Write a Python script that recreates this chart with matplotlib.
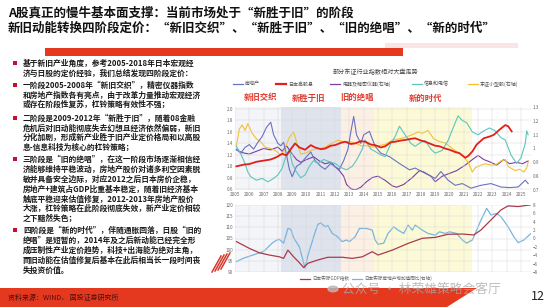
import matplotlib
matplotlib.use('Agg')
import matplotlib.pyplot as plt
from matplotlib.patches import Rectangle, Polygon, Circle
from matplotlib.lines import Line2D

plt.rcParams['font.family'] = ['Noto Sans CJK SC', 'DejaVu Sans']

# ---------------- data ----------------
title1 = 'A股真正的慢牛基本面支撑：当前市场处于“新胜于旧”的阶段'
title2 = '新旧动能转换四阶段定价：“新旧交织”、“新胜于旧”、“旧的绝唱”、“新的时代”'

bullets = [
    ['基于新旧产业角度，参考2005-2018年日本宏观经',
     '济与日股的定价经验，我们总结发现四阶段定价：'],
    ['一阶段2005-2008年“新旧交织”，精密仪器指数',
     '和房地产指数各有亮点，由于改革力量推动宏观经济',
     '或存在阶段性复苏，杠铃策略有效性不强；'],
    ['二阶段是2009-2012年“新胜于旧”，随着08金融',
     '危机后对旧动能彻底失去幻想且经济依然偏弱，新旧',
     '分化加剧，形成新产业胜于旧产业定价格局和以高股',
     '息-信息科技为核心的杠铃策略；'],
    ['三阶段是“旧的绝唱”，在这一阶段市场逐渐相信经',
     '济能够维持平稳波动，房地产股价对诸多利空因素脱',
     '敏并具备安全边际，对应2012之后日本房价企稳，',
     '房地产+建筑占GDP比重基本稳定，随着旧经济基本',
     '触底平稳迎来估值修复，2012-2013年房地产股价',
     '大涨，杠铃策略在此阶段彻底失效，新产业定价相较',
     '之下黯然失色；'],
    ['四阶段是“新的时代”，伴随通胀回落，日股“旧的',
     '绝唱”是短暂的，2014年及之后新动能已经完全形',
     '成压制性产业定价趋势，科技+出海能为绝对主角，',
     '而旧动能在估值修复后基本在此后相当长一段时间丧',
     '失投资价值。'],
]
bullet_y = [[63, 73], [85, 95, 104], [118, 128, 137, 147],
            [159, 169, 179, 189, 199, 208, 218], [230, 240, 250, 260, 270]]

phases = ['新旧交织', '新胜于旧', '旧的绝唱', '新的时代']
phase_spans = [(2005.0, 2008.2), (2008.2, 2012.4), (2012.4, 2014.7), (2014.7, 2021.6)]
years = list(range(2005, 2026))

# 房地产 (left axis)
re_x = [2005.1, 2005.4, 2005.7, 2006.0, 2006.3, 2006.6, 2006.9, 2007.2, 2007.5, 2007.7, 2008.0, 2008.2,
        2008.4, 2008.6, 2008.8, 2009.0, 2009.3, 2009.6, 2009.9, 2010.3, 2010.6, 2011.0, 2011.3, 2011.7,
        2012.0, 2012.3, 2012.6, 2012.9, 2013.1, 2013.3, 2013.5, 2013.8, 2014.0, 2014.4, 2014.8, 2015.2,
        2015.8, 2016.5, 2017.2, 2017.6, 2018.3, 2019.0, 2019.4, 2019.9, 2020.4, 2020.9, 2021.5, 2022.2,
        2022.9, 2023.6, 2024.2, 2024.8, 2025.3, 2025.5]
re_y = [1.30, 1.23, 1.33, 1.38, 1.30, 1.42, 1.52, 1.68, 1.77, 1.55, 1.40, 1.36,
        1.42, 1.20, 0.95, 0.82, 1.00, 1.05, 1.14, 1.25, 1.10, 1.00, 0.95, 1.05,
        0.99, 0.95, 1.10, 1.30, 1.60, 1.87, 1.55, 1.40, 1.55, 1.61, 1.35, 1.23,
        1.17, 1.05, 0.94, 0.97, 0.88, 0.79, 0.91, 0.76, 0.67, 0.70, 0.62, 0.67,
        0.70, 0.64, 0.63, 0.64, 0.76, 0.70]

# 日本高股息 (left axis)
hd_x = [2005.1, 2005.6, 2006.0, 2006.5, 2007.0, 2007.5, 2007.9, 2008.3, 2008.6, 2008.9, 2009.2, 2009.5,
        2009.9, 2010.3, 2010.6, 2011.0, 2011.3, 2011.7, 2012.0, 2012.4, 2012.7, 2013.1, 2013.4, 2013.8,
        2014.1, 2014.5, 2014.8, 2015.2, 2015.5, 2015.9, 2016.2, 2016.6, 2016.9, 2017.3, 2017.6, 2018.0,
        2018.3, 2018.6, 2019.0, 2019.3, 2019.7, 2020.0, 2020.4, 2020.7, 2021.1, 2021.3, 2021.6, 2021.9,
        2022.4, 2022.8, 2023.1, 2023.5, 2023.9, 2024.1, 2024.35]
hd_y = [1.00, 1.03, 1.04, 1.08, 1.10, 1.12, 1.16, 1.22, 1.19, 1.30, 1.40, 1.33,
        1.29, 1.37, 1.33, 1.30, 1.31, 1.36, 1.37, 1.41, 1.43, 1.39, 1.40, 1.44,
        1.43, 1.38, 1.37, 1.33, 1.35, 1.42, 1.43, 1.45, 1.46, 1.48, 1.49, 1.45,
        1.43, 1.40, 1.36, 1.35, 1.31, 1.29, 1.25, 1.23, 1.15, 1.18, 1.26, 1.38,
        1.49, 1.52, 1.55, 1.64, 1.72, 1.70, 1.61]

# 电器及精密仪器 (right axis)
el_x = [2005.1, 2005.5, 2006.0, 2006.5, 2007.0, 2007.5, 2008.0, 2008.3, 2008.6, 2009.0, 2009.3, 2009.6,
        2010.0, 2010.5, 2010.9, 2011.3, 2011.7, 2012.0, 2012.3, 2012.6, 2012.8, 2013.1, 2013.4, 2013.8,
        2014.2, 2014.6, 2015.0, 2015.5, 2016.0, 2016.3, 2016.8, 2017.4, 2017.9, 2018.2, 2018.7, 2019.0,
        2019.5, 2020.0, 2020.5, 2021.1, 2021.6, 2022.0, 2022.4, 2022.9, 2023.3, 2023.8, 2024.2, 2024.7,
        2025.1, 2025.5]
el_y = [0.99, 0.97, 0.96, 0.98, 1.00, 0.99, 1.01, 0.98, 1.02, 0.96, 0.92, 0.90,
        0.92, 0.94, 0.91, 0.89, 0.90, 0.87, 0.84, 0.80, 0.74, 0.71, 0.70, 0.72,
        0.76, 0.79, 0.80, 0.77, 0.73, 0.72, 0.74, 0.79, 0.84, 0.83, 0.80, 0.76,
        0.80, 0.82, 0.84, 0.88, 0.92, 0.95, 0.92, 0.90, 0.88, 0.92, 0.89, 0.90,
        0.89, 0.91]

# 信息和电信 (left axis)
it_x = [2005.1, 2005.4, 2005.7, 2005.9, 2006.1, 2006.5, 2006.9, 2007.3, 2007.7, 2008.0, 2008.3, 2008.6,
        2008.8, 2009.0, 2009.3, 2009.6, 2009.9, 2010.2, 2010.5, 2010.8, 2011.2, 2011.6, 2012.0, 2012.4,
        2012.8, 2013.2, 2013.5, 2013.9, 2014.1, 2014.5, 2014.8, 2015.2, 2015.5, 2015.9, 2016.2, 2016.5,
        2016.9, 2017.3, 2017.6, 2018.0, 2018.3, 2018.7, 2019.0, 2019.5, 2019.9, 2020.3, 2020.6, 2020.9,
        2021.2, 2021.6, 2022.0, 2022.4, 2022.8, 2023.2, 2023.6, 2023.9, 2024.3, 2024.7, 2025.0, 2025.3,
        2025.4, 2025.5]
it_y = [1.35, 1.22, 1.05, 0.90, 0.82, 0.76, 0.79, 0.73, 0.79, 0.85, 0.97, 1.20,
        1.29, 1.05, 0.90, 0.80, 0.85, 1.00, 1.10, 1.05, 1.12, 1.08, 1.05, 0.98,
        0.94, 1.00, 1.11, 1.30, 1.46, 1.30, 1.26, 1.20, 1.17, 1.40, 1.52, 1.70,
        1.55, 1.40, 1.35, 1.42, 1.45, 1.30, 1.23, 1.28, 1.45, 1.70, 1.88, 1.80,
        1.76, 1.60, 1.55, 1.62, 1.67, 1.62, 1.50, 1.46, 1.20, 1.05, 1.15, 1.40,
        1.62, 1.55]

# 东证小型股 (right axis)
sc_x = [2005.1, 2005.3, 2005.5, 2005.7, 2005.9, 2006.2, 2006.5, 2006.8, 2007.1, 2007.5, 2007.9, 2008.2,
        2008.5, 2008.8, 2009.1, 2009.3, 2009.6, 2010.0, 2010.4, 2010.9, 2011.3, 2011.8, 2012.2, 2012.6,
        2013.0, 2013.4, 2013.8, 2014.2, 2014.6, 2015.0, 2015.5, 2016.0, 2016.5, 2016.9, 2017.4, 2017.8,
        2018.1, 2018.5, 2018.9, 2019.3, 2019.7, 2020.2, 2020.6, 2021.0, 2021.3, 2021.6, 2021.8, 2022.2,
        2022.5, 2022.9, 2023.2, 2023.6, 2023.9, 2024.1, 2024.6, 2024.9, 2025.2, 2025.4, 2025.5]
sc_y = [1.02, 1.14, 1.17, 1.13, 1.18, 1.11, 1.07, 1.05, 1.01, 1.00, 0.98, 0.95,
        1.00, 1.08, 1.12, 1.05, 0.96, 0.97, 0.99, 1.00, 1.01, 1.04, 1.06, 1.05,
        1.05, 1.04, 1.02, 1.02, 1.01, 1.02, 1.03, 1.06, 1.07, 1.08, 1.10, 1.12,
        1.11, 1.13, 1.07, 1.05, 1.04, 1.00, 0.97, 0.94, 0.90, 0.83, 0.86, 0.88,
        0.89, 0.88, 0.88, 0.91, 0.92, 0.87, 0.84, 0.85, 0.83, 0.86, 0.90]

# 日本实际GDP指数 (left axis, lower panel)
gdp_x = [2005.1, 2006.0, 2006.7, 2007.4, 2008.1, 2008.4, 2008.7, 2009.1, 2009.5, 2009.8, 2010.1, 2010.8,
         2011.5, 2012.5, 2013.2, 2013.9, 2014.6, 2015.0, 2016.0, 2017.1, 2018.1, 2019.0, 2019.9, 2020.9,
         2021.7, 2022.2, 2022.9, 2023.6, 2024.1, 2024.8, 2025.7]
gdp_y = [103.6, 100.6, 98.6, 97.6, 96.8, 96.1, 99.8, 96.8, 94.2, 92.0, 93.9, 95.4,
         96.6, 96.6, 96.1, 96.8, 99.1, 97.6, 99.8, 102.8, 105.1, 105.5, 106.9, 107.0,
         106.6, 108.8, 113.3, 117.8, 119.6, 119.3, 120.1]

# 日本实际房地产增加值同比 (right axis, lower panel)
rv_x = [2005.1, 2005.6, 2006.3, 2007.0, 2007.6, 2007.9, 2008.1, 2008.4, 2008.7, 2008.9, 2009.1, 2009.5,
        2009.7, 2009.9, 2010.1, 2010.4, 2010.6, 2010.8, 2011.0, 2011.3, 2011.5, 2011.8, 2012.1, 2012.5,
        2012.8, 2013.0, 2013.4, 2013.7, 2014.2, 2014.6, 2014.8, 2015.0, 2015.4, 2015.7, 2016.1, 2016.4,
        2016.8, 2017.1, 2017.4, 2017.6, 2018.1, 2018.5, 2019.0, 2019.3, 2019.7, 2020.0, 2020.5, 2020.9,
        2021.2, 2021.6, 2021.9, 2022.2, 2022.6, 2022.9, 2023.3, 2023.6, 2024.1, 2024.5, 2024.8, 2025.2,
        2025.7]
rv_y = [-5.5, -4.7, -3.9, -3.1, -1.1, -0.4, -0.2, -1.1, 2.4, 2.2, 0.2, -2.0,
        -4.5, -7.1, -4.0, -0.75, 1.5, 3.4, 3.7, 2.8, 3.1, 1.2, 0.6, -0.75,
        -0.35, -0.75, 0.4, 2.4, 2.4, 2.0, -0.35, -1.4, -1.1, 1.2, 2.8, 2.0,
        1.2, 3.2, 2.0, 3.2, 2.0, 1.2, 0.8, 1.6, 1.2, 1.6, 1.2, -0.35,
        -1.1, -0.35, 2.0, 4.4, 7.2, 5.6, 6.0, 5.2, 2.8, 0.4, -1.0, -0.35,
        1.2]

# ---------------- figure ----------------
W, H = 550, 307
fig = plt.figure(figsize=(5.5, 3.07), dpi=100)
RED = '#e5391f'


def fx(x):
    return x / W


def fy(y):
    return 1 - y / H


def rect(x0, y0, x1, y1, color, **kw):
    fig.add_artist(Rectangle((fx(x0), fy(y1)), fx(x1 - x0), (y1 - y0) / H,
                             transform=fig.transFigure, color=color, lw=0, **kw))


# header
fig.text(fx(8), fy(13), title1, fontsize=9.0, weight='bold', va='center', color='#111111')
fig.text(fx(8), fy(28), title2, fontsize=9.0, weight='bold', va='center', color='#111111')
rect(385, 43, 518, 48, '#fbe4e4')
rect(45, 48, 403, 56, RED)

# left text panel
for lines, ys in zip(bullets, bullet_y):
    rect(13, ys[0] - 2.2, 17.4, ys[0] + 2.2, '#c8102e')
    for t, y in zip(lines, ys):
        fig.text(fx(23), fy(y), t, fontsize=5.6, weight='bold', va='center', color='#1a1a1a')

# hatch decoration
for k in range(4):
    x0 = 212 + k * 3
    fig.add_artist(Line2D([fx(x0), fx(x0 + 9)], [fy(272 - k), fy(256 - k)],
                          transform=fig.transFigure, color='#d63a2c', lw=1.1))

# chart title & legend
fig.text(fx(376), fy(72), '部分东证行业指数相对大盘走势', fontsize=4.4, ha='center', va='center', color='#444444')
legend_items = [('房地产', '#6a72c2', 233), ('日本高股息', '#e0201b', 276),
                ('电器及精密仪器(右轴)', '#7a3ea0', 330), ('信息和电信', '#5cc6bd', 412),
                ('东证小型股(右轴)', '#f2c12e', 468)]
for name, col, x0 in legend_items:
    fig.add_artist(Line2D([fx(x0), fx(x0 + 10)], [fy(84), fy(84)], transform=fig.transFigure,
                          color=col, lw=1.6 if name == '日本高股息' else 0.9))
    fig.text(fx(x0 + 12), fy(84), name, fontsize=3.6, va='center', color='#555555')

phase_x = [260, 308, 357, 425]
for name, x in zip(phases, phase_x):
    fig.text(fx(x), fy(98), name, fontsize=6, weight='bold', ha='center', va='center', color='#e23a2e')

span_colors = ['#f4f5f8', '#dee3ed', '#fcefe3', '#fcfad6']


def style(ax, twin):
    # ax = front (left-axis) axes, twin = back (right-axis) axes carrying the shading
    ax.set_xlim(2005.0, 2025.7)
    ax.set_zorder(twin.get_zorder() + 1)
    ax.patch.set_visible(False)
    for a in (ax, twin):
        for s in a.spines.values():
            s.set_visible(False)
        a.tick_params(length=0, labelsize=3.3, colors='#666666', pad=1.5)
    for (a0, a1), c in zip(phase_spans, span_colors):
        twin.axvspan(a0, a1, color=c, lw=0, zorder=0.2)
    ax.set_xticks(years)
    ax.grid(color='#d8d8d8', lw=0.35, zorder=0.5)


ax1 = fig.add_axes([fx(235), fy(190), fx(296), 83 / H])
ax1r = ax1.twinx()
style(ax1, ax1r)
ax1.set_ylim(0.588, 2.035)
ax1.set_yticks([0.6, 0.8, 1.0, 1.2, 1.4, 1.6, 1.8, 2.0])
ax1.set_yticklabels(['0.6', '0.8', '1.0', '1.2', '1.4', '1.6', '1.8', '2.0'])
ax1.set_xticklabels([str(y) for y in years])
ax1r.set_ylim(0.7, 1.3)
ax1r.set_yticks([0.7, 0.8, 0.9, 1.0, 1.1, 1.2, 1.3])
ax1r.set_yticklabels(['0.7', '0.8', '0.9', '1', '1.1', '1.2', '1.3'])

ax1r.plot(el_x, el_y, color='#7a3ea0', lw=0.8, zorder=2)
ax1r.plot(sc_x, sc_y, color='#f2c12e', lw=0.8, zorder=2)
ax1.plot(re_x, re_y, color='#6a72c2', lw=0.8, zorder=2)
ax1.plot(it_x, it_y, color='#5cc6bd', lw=0.8, zorder=2)
ax1.plot(hd_x, hd_y, color='#e0201b', lw=1.3, zorder=3)

ax2 = fig.add_axes([fx(235), fy(272), fx(296), 67 / H])
ax2r = ax2.twinx()
style(ax2, ax2r)
ax2.set_ylim(90, 120)
ax2.set_yticks([90, 95, 100, 105, 110, 115, 120])
ax2.set_xticklabels([])
ax2r.set_ylim(-8, 8)
ax2r.set_yticks([-8, -6, -4, -2, 0, 2, 4, 6, 8])
ax2r.plot(rv_x, rv_y, color='#7ab4dc', lw=0.9, zorder=2)
ax2.plot(gdp_x, gdp_y, color='#a83a4c', lw=0.9, zorder=2)

# lower legend
fig.add_artist(Line2D([fx(300), fx(310)], [fy(278.5), fy(278.5)], transform=fig.transFigure, color='#a83a4c', lw=0.9))
fig.text(fx(312), fy(278.5), '日本实际GDP指数', fontsize=3.3, va='center', color='#666666')
fig.add_artist(Line2D([fx(352), fx(362)], [fy(278.5), fy(278.5)], transform=fig.transFigure, color='#7ab4dc', lw=0.9))
fig.text(fx(364), fy(278.5), '日本实际房地产增加值同比(右轴)', fontsize=3.3, va='center', color='#666666')

# footer
fig.add_artist(Polygon([(0, fy(288)), (fx(477), fy(288)), (fx(447), fy(307)), (0, fy(307))],
                       closed=True, transform=fig.transFigure, color=RED, lw=0))
fig.text(fx(8), fy(298), '资料来源：WIND， 国投证券研究所', fontsize=5, va='center', color='#4a1010')
fig.text(fx(545), fy(297), '12', fontsize=9, ha='right', va='center', color='#222222')

# watermark
fig.add_artist(Circle((fx(333), fy(289)), 5 / W, transform=fig.transFigure, color='#b8b8b8', alpha=0.8))
fig.text(fx(342), fy(289.5), '公众号 · 林荣雄策略会客厅', fontsize=9.2, va='center', color='#a8a8a8', alpha=0.75)

fig.savefig('out.png', dpi=100)
